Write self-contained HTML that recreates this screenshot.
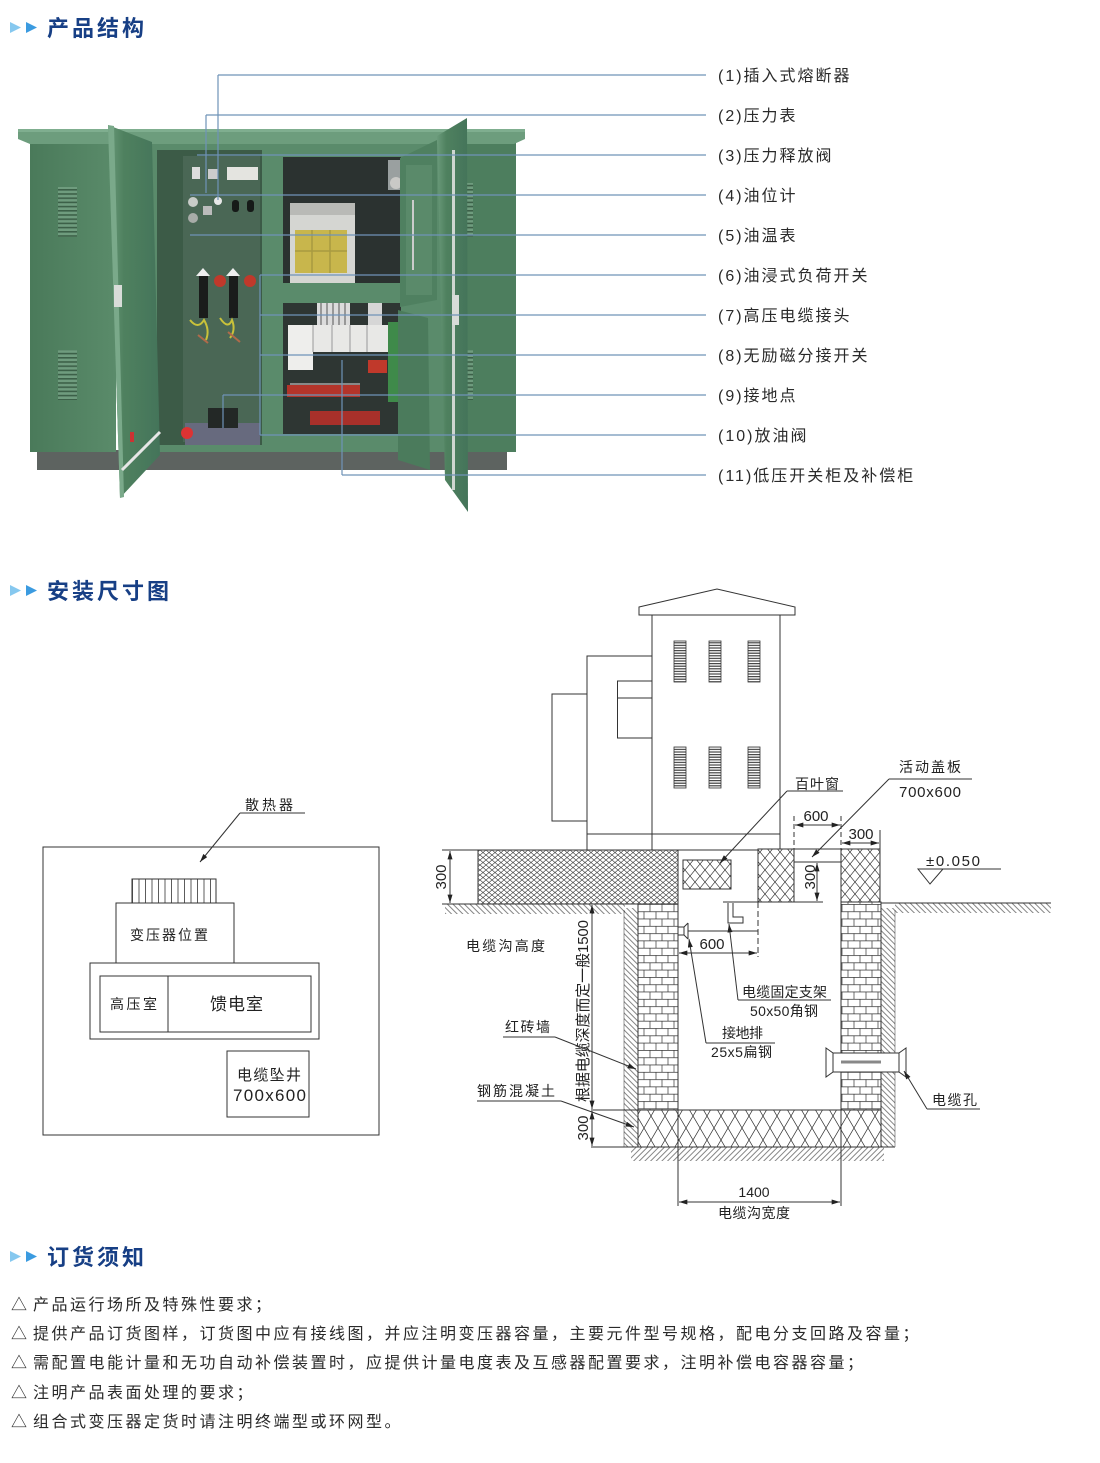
<!DOCTYPE html>
<html><head><meta charset="utf-8">
<style>
html,body{margin:0;padding:0;background:#fff;}
svg{display:block;}
.t{font-family:"Liberation Sans","Noto Sans CJK SC",sans-serif;fill:#222;}
.h{font-family:"Liberation Sans","Noto Sans CJK SC",sans-serif;fill:#173f85;font-weight:700;font-size:22px;letter-spacing:3px;}
.lb{font-family:"Liberation Sans","Noto Sans CJK SC",sans-serif;fill:#2a2a2a;font-size:16px;letter-spacing:2px;}
.bt{font-family:"Liberation Sans","Noto Sans CJK SC",sans-serif;fill:#2a2a2a;font-size:16px;letter-spacing:2.5px;}
.ln{stroke:#333;stroke-width:1;fill:none;}
.lead{stroke:#6f93b8;stroke-width:1.2;fill:none;}
</style></head>
<body>
<svg width="1100" height="1463" viewBox="0 0 1100 1463" xmlns="http://www.w3.org/2000/svg">
<defs>
  <marker id="a" viewBox="0 0 10 6" refX="10" refY="3" markerWidth="9" markerHeight="5" orient="auto-start-reverse" markerUnits="userSpaceOnUse"><path d="M0,0 L10,3 L0,6 z" fill="#222"/></marker>
  <pattern id="fx" patternUnits="userSpaceOnUse" width="6" height="5"><rect width="6" height="5" fill="#fff"/><path d="M0,0 L6,5 M0,5 L6,0" stroke="#333" stroke-width="0.6"/></pattern>
  <pattern id="mx" patternUnits="userSpaceOnUse" width="10" height="12"><rect width="10" height="12" fill="#fff"/><path d="M0,0 L10,12 M0,12 L10,0" stroke="#333" stroke-width="0.7"/></pattern>
  <pattern id="sx" patternUnits="userSpaceOnUse" width="14" height="24"><rect width="14" height="24" fill="#fff"/><path d="M0,0 L14,24 M0,24 L14,0" stroke="#333" stroke-width="0.7"/></pattern>
  <pattern id="br" patternUnits="userSpaceOnUse" x="0" y="904" width="24" height="14.6"><rect width="24" height="14.6" fill="#fff"/><path d="M0,0.4H24 M0,7.7H24 M2,0V7.3 M14,0V7.3 M8,7.3V14.6 M20,7.3V14.6" stroke="#333" stroke-width="0.7"/></pattern>
  <pattern id="hd" patternUnits="userSpaceOnUse" width="4" height="4" patternTransform="rotate(45)"><line x1="1" y1="0" x2="1" y2="4" stroke="#333" stroke-width="0.6"/></pattern>
  <pattern id="hd2" patternUnits="userSpaceOnUse" width="4" height="4" patternTransform="rotate(-45)"><line x1="1" y1="0" x2="1" y2="4" stroke="#333" stroke-width="0.6"/></pattern>
  <pattern id="lv" patternUnits="userSpaceOnUse" width="4" height="2.6"><rect width="4" height="2.6" fill="#fff"/><rect width="4" height="1.2" fill="#444"/></pattern>
  <pattern id="fin" patternUnits="userSpaceOnUse" x="132" width="6.5" height="4"><rect width="6.5" height="4" fill="#fff"/><line x1="0.5" y1="0" x2="0.5" y2="4" stroke="#333" stroke-width="0.8"/></pattern>
  <pattern id="plv" patternUnits="userSpaceOnUse" width="4" height="4.2"><rect width="4" height="4.2" fill="#6f9c7e"/><rect width="4" height="1.6" fill="#3c6048"/></pattern>
  <linearGradient id="gside" x1="0" x2="1" y1="0" y2="0"><stop offset="0" stop-color="#4a7a5a"/><stop offset="1" stop-color="#5a8b6a"/></linearGradient>
  <linearGradient id="gdoor" x1="0" x2="1" y1="0" y2="0"><stop offset="0" stop-color="#6a9a7a"/><stop offset="0.3" stop-color="#4f815f"/><stop offset="1" stop-color="#44745a"/></linearGradient>
</defs>

<!-- ========== Section 1 title ========== -->
<polygon points="10,22 21,27.5 10,33" fill="#86c8ef"/>
<polygon points="26,22 37,27.5 26,33" fill="#3b9be0"/>
<text class="h" x="47" y="36">产品结构</text>

<!-- ========== Photo ========== -->
<g>
  <rect x="37" y="450" width="470" height="20" fill="#5d6360"/>
  <rect x="30" y="140" width="86" height="312" fill="url(#gside)"/>
  <rect x="460" y="140" width="56" height="312" fill="#4d7e5e"/>
  <rect x="148" y="140" width="315" height="312" fill="#5a8b6b"/>
  <polygon points="18,129 525,129 525,139 514,144 30,144 18,139" fill="#6d9d7d"/>
  <rect x="18" y="129" width="507" height="3" fill="#7fae8f"/>
  <!-- louvers -->
  <rect x="58" y="187" width="19" height="50" fill="url(#plv)"/>
  <rect x="58" y="350" width="19" height="50" fill="url(#plv)"/>
  <rect x="466" y="183" width="7" height="54" fill="url(#plv)"/>
  <rect x="466" y="350" width="7" height="50" fill="url(#plv)"/>
  <!-- left compartment -->
  <rect x="157" y="150" width="105" height="295" fill="#3c5b47"/>
  <rect x="183" y="156" width="77" height="286" fill="#4a6755"/>
  <rect x="185" y="423" width="75" height="22" fill="#676a7e"/>
  <rect x="227" y="167" width="31" height="13" fill="#e4e4e0"/>
  <rect x="192" y="167" width="8" height="12" fill="#ddd"/>
  <rect x="208" y="169" width="10" height="10" fill="#ccc"/>
  <circle cx="193" cy="202" r="5" fill="#c8ccc8"/>
  <circle cx="218" cy="201" r="4" fill="#e8e8e8"/>
  <rect x="203" y="206" width="9" height="9" fill="#bbb"/>
  <circle cx="193" cy="218" r="5" fill="#a8aca8"/>
  <rect x="232" y="200" width="7" height="12" rx="3" fill="#161a18"/>
  <rect x="247" y="200" width="7" height="12" rx="3" fill="#161a18"/>
  <rect x="199" y="276" width="9" height="42" fill="#1a1c1b"/>
  <rect x="229" y="276" width="9" height="42" fill="#1a1c1b"/>
  <circle cx="220" cy="281" r="6" fill="#c0392b"/>
  <circle cx="250" cy="281" r="6" fill="#c0392b"/>
  <polygon points="196,276 203,268 210,276" fill="#eee"/>
  <polygon points="226,276 233,268 240,276" fill="#eee"/>
  <path d="M190,320 q8,10 14,0 q6,10 2,20 M220,318 q8,12 12,2 q4,10 -2,18" stroke="#c9c23a" stroke-width="2" fill="none"/>
  <path d="M198,335 l10,8 M228,332 l12,10" stroke="#b06a4a" stroke-width="2"/>
  <rect x="208" y="408" width="30" height="20" fill="#232826"/>
  <circle cx="187" cy="433" r="6" fill="#d33"/>
  <!-- right upper compartment -->
  <rect x="283" y="157" width="118" height="126" fill="#2b3230"/>
  <rect x="290" y="203" width="65" height="80" fill="#d5d6d2"/>
  <rect x="295" y="230" width="52" height="43" fill="#c8b64c"/>
  <path d="M312,230 V273 M330,230 V273 M295,251 H347" stroke="#a89a40" stroke-width="1.5"/>
  <rect x="290" y="203" width="65" height="12" fill="#b9bab6"/>
  <rect x="388" y="160" width="14" height="30" fill="#9aa0a0"/>
  <circle cx="396" cy="183" r="6" fill="#c9c9c6"/>
  <!-- right lower compartment -->
  <rect x="283" y="303" width="118" height="131" fill="#2e3633"/>
  <rect x="317" y="303" width="33" height="22" fill="#dcdcdc"/>
  <path d="M321,303V325 M327,303V325 M333,303V325 M339,303V325 M345,303V325" stroke="#555" stroke-width="1"/>
  <rect x="368" y="303" width="14" height="22" fill="#d6d6d6"/>
  <rect x="288" y="325" width="100" height="27" fill="#e8e8e6"/>
  <rect x="288" y="325" width="25" height="45" fill="#eeeeec"/>
  <path d="M313,325V352 M332,325V352 M350,325V352 M367,325V352" stroke="#999" stroke-width="1"/>
  <rect x="368" y="360" width="19" height="13" fill="#c0392b"/>
  <rect x="287" y="385" width="73" height="12" fill="#b3342a"/>
  <rect x="310" y="411" width="70" height="14" fill="#a8302a"/>
  <rect x="290" y="383" width="70" height="2" fill="#888"/>
  <!-- upper door panel -->
  <polygon points="400,158 437,140 437,300 400,307" fill="#4f8060"/>
  <rect x="406" y="165" width="26" height="130" fill="#5a8a6a"/>
  <rect x="412" y="200" width="2" height="70" fill="#ccc"/>
  <!-- lower door -->
  <polygon points="398,310 428,318 430,470 398,460" fill="#4b7b5c"/>
  <rect x="388" y="322" width="10" height="80" fill="#3f8a4a"/>
  <!-- right big door -->
  <polygon points="437,136 467,118 468,512 445,480" fill="url(#gdoor)"/>
  <rect x="452" y="150" width="3" height="340" fill="#cfd6d0"/>
  <rect x="452" y="295" width="7" height="30" fill="#d8dcd8"/>
  <!-- left door -->
  <polygon points="108,125 152,142 160,455 120,498" fill="url(#gdoor)"/>
  <polygon points="108,125 114,126 124,497 120,498" fill="#7aa98a"/>
  <rect x="114" y="285" width="8" height="22" fill="#d8dcd8"/>
  <path d="M122,470 L160,432" stroke="#e6e6e6" stroke-width="3"/>
  <rect x="130" y="432" width="4" height="10" fill="#c33"/>
</g>

<!-- leader lines -->
<g class="lead">
  <path d="M218,75 H706 M218,75 V200"/>
  <path d="M206,115 H706 M206,115 V193"/>
  <path d="M197,155 H706"/>
  <path d="M190,195 H706"/>
  <path d="M190,235 H706"/>
  <path d="M260,275 H706 M260,275 V435"/>
  <path d="M260,315 H706"/>
  <path d="M260,355 H706"/>
  <path d="M223,395 H706 M223,395 V428"/>
  <path d="M260,435 H706"/>
  <path d="M342,475 H706 M342,360 V475"/>
</g>

<!-- labels -->
<text class="lb" x="718" y="81">(1)插入式熔断器</text>
<text class="lb" x="718" y="121">(2)压力表</text>
<text class="lb" x="718" y="161">(3)压力释放阀</text>
<text class="lb" x="718" y="201">(4)油位计</text>
<text class="lb" x="718" y="241">(5)油温表</text>
<text class="lb" x="718" y="281">(6)油浸式负荷开关</text>
<text class="lb" x="718" y="321">(7)高压电缆接头</text>
<text class="lb" x="718" y="361">(8)无励磁分接开关</text>
<text class="lb" x="718" y="401">(9)接地点</text>
<text class="lb" x="718" y="441">(10)放油阀</text>
<text class="lb" x="718" y="481">(11)低压开关柜及补偿柜</text>

<!-- ========== Section 2 title ========== -->
<polygon points="10,585 21,590.5 10,596" fill="#86c8ef"/>
<polygon points="26,585 37,590.5 26,596" fill="#3b9be0"/>
<text class="h" x="47" y="599">安装尺寸图</text>

<!-- ===== Left plan diagram ===== -->
<g class="ln" stroke="#555">
  <rect x="43" y="847" width="336" height="288"/>
  <rect x="132" y="879" width="84" height="24" fill="url(#fin)"/>
  <rect x="116" y="903" width="118" height="60" fill="#fff"/>
  <rect x="90" y="963" width="229" height="76"/>
  <rect x="100" y="976" width="211" height="56"/>
  <line x1="168" y1="976" x2="168" y2="1032"/>
  <rect x="227" y="1051" width="82" height="66"/>
  <line x1="240" y1="813" x2="305" y2="813"/>
  <line x1="240" y1="813" x2="200" y2="862" marker-end="url(#a)"/>
</g>
<text class="t" x="245" y="810" font-size="14" textLength="48">散热器</text>
<text class="t" x="130" y="940" font-size="14" textLength="78">变压器位置</text>
<text class="t" x="110" y="1009" font-size="14" textLength="47">高压室</text>
<text class="t" x="210" y="1010" font-size="17" textLength="53">馈电室</text>
<text class="t" x="237" y="1080" font-size="15" textLength="64">电缆坠井</text>
<text class="t" x="233" y="1101" font-size="17" textLength="73">700x600</text>

<!-- ===== Right section diagram ===== -->
<g class="ln">
  <polygon points="639,607 717,589 795,607 795,615 639,615" fill="#fff"/>
  <rect x="652" y="615" width="128" height="235" fill="#fff"/>
  <rect x="587" y="656" width="65" height="194" fill="#fff"/>
  <rect x="552" y="694" width="35" height="127" fill="#fff"/>
  <rect x="617.5" y="681" width="34.5" height="57" fill="#fff"/>
  <line x1="617.5" y1="698" x2="652" y2="698"/>
  <line x1="587" y1="834" x2="780" y2="834"/>
</g>
<g stroke="#333" stroke-width="0.8">
  <rect x="674" y="641" width="12" height="41" fill="url(#lv)"/>
  <rect x="709" y="641" width="12" height="41" fill="url(#lv)"/>
  <rect x="748" y="641" width="12" height="41" fill="url(#lv)"/>
  <rect x="674" y="747" width="12" height="41" fill="url(#lv)"/>
  <rect x="709" y="747" width="12" height="41" fill="url(#lv)"/>
  <rect x="748" y="747" width="12" height="41" fill="url(#lv)"/>
</g>

<!-- ground hatches -->
<rect x="445" y="904" width="180" height="10" fill="url(#hd2)"/>
<rect x="624" y="908" width="14" height="239" fill="url(#hd2)"/>
<rect x="881" y="908" width="14" height="239" fill="url(#hd2)"/>
<rect x="895" y="903" width="156" height="10" fill="url(#hd2)"/>
<rect x="631" y="1147" width="253" height="14" fill="url(#hd)"/>

<g class="ln">
  <rect x="478" y="850" width="200" height="54" fill="url(#fx)"/>
  <line x1="442" y1="850" x2="758" y2="850"/>
  <line x1="442" y1="904" x2="638" y2="904"/>
  <line x1="450" y1="851" x2="450" y2="903" marker-start="url(#a)" marker-end="url(#a)"/>
  <rect x="683" y="860" width="48" height="29" fill="url(#mx)"/>
  <rect x="758" y="849" width="36" height="53" fill="url(#mx)"/>
  <rect x="841" y="849" width="39" height="53" fill="url(#mx)"/>
  <line x1="794" y1="849" x2="841" y2="849"/>
  <line x1="794" y1="862" x2="841" y2="862"/>
  <line x1="794" y1="816" x2="794" y2="849" stroke-dasharray="5,3"/>
  <line x1="841" y1="816" x2="841" y2="849" stroke-dasharray="5,3"/>
  <line x1="795" y1="825" x2="840" y2="825" marker-start="url(#a)" marker-end="url(#a)"/>
  <line x1="880" y1="830" x2="880" y2="849"/>
  <line x1="842" y1="843" x2="879" y2="843" marker-start="url(#a)" marker-end="url(#a)"/>
  <line x1="817" y1="863" x2="817" y2="901" marker-start="url(#a)" marker-end="url(#a)"/>
  <line x1="723" y1="902" x2="823" y2="902"/>
  <line x1="758" y1="902" x2="758" y2="957" stroke-dasharray="6,3"/>
  <rect x="638" y="904" width="40" height="206" fill="url(#br)"/>
  <rect x="841" y="902" width="40" height="208" fill="url(#br)"/>
  <line x1="881" y1="903" x2="1051" y2="903"/>
  <line x1="624" y1="910" x2="624" y2="1147" stroke-width="0.5"/>
  <line x1="895" y1="910" x2="895" y2="1147" stroke-width="0.5"/>
  <rect x="638" y="1110" width="243" height="37" fill="url(#sx)"/>
  <line x1="624" y1="1147" x2="895" y2="1147"/>
  <line x1="678" y1="1110" x2="678" y2="1206"/>
  <line x1="841" y1="1110" x2="841" y2="1206"/>
  <line x1="679" y1="1202" x2="840" y2="1202" marker-start="url(#a)" marker-end="url(#a)"/>
  <line x1="591" y1="1110" x2="638" y2="1110"/>
  <line x1="591" y1="1147" x2="624" y2="1147"/>
  <line x1="592" y1="905" x2="592" y2="1109" marker-start="url(#a)" marker-end="url(#a)"/>
  <line x1="592" y1="1111" x2="592" y2="1146" marker-start="url(#a)" marker-end="url(#a)"/>
  <rect x="678" y="927" width="6" height="8" fill="#fff"/>
  <line x1="688" y1="923" x2="688" y2="939"/>
  <line x1="684" y1="927" x2="688" y2="923"/>
  <line x1="684" y1="935" x2="688" y2="939"/>
  <line x1="688" y1="931" x2="758" y2="931"/>
  <line x1="679" y1="953" x2="757" y2="953" marker-start="url(#a)" marker-end="url(#a)"/>
  <polyline points="728,903 728,923 743,923 743,917 733,917 733,903"/>
  <rect x="833" y="1053" width="66" height="19" fill="#fff"/>
  <polygon points="826,1048 833,1053 833,1072 826,1077" fill="#fff"/>
  <polygon points="906,1048 899,1053 899,1072 906,1077" fill="#fff"/>
  <line x1="841" y1="1062" x2="881" y2="1062" stroke="#888" stroke-width="3"/>
  <line x1="918" y1="869" x2="1001" y2="869"/>
  <polygon points="918,869 943,869 930,884" fill="#fff"/>
  <line x1="787" y1="791" x2="843" y2="791"/>
  <line x1="787" y1="791" x2="720" y2="863" marker-end="url(#a)"/>
  <line x1="889" y1="779" x2="972" y2="779"/>
  <line x1="889" y1="779" x2="812" y2="857" marker-end="url(#a)"/>
  <line x1="503" y1="1037" x2="555" y2="1037"/>
  <line x1="555" y1="1037" x2="636" y2="1069" marker-end="url(#a)"/>
  <line x1="477" y1="1101" x2="561" y2="1101"/>
  <line x1="561" y1="1101" x2="634" y2="1127" marker-end="url(#a)"/>
  <line x1="738" y1="1000" x2="831" y2="1000"/>
  <line x1="738" y1="1000" x2="729" y2="924" marker-end="url(#a)"/>
  <line x1="706" y1="1043" x2="775" y2="1043"/>
  <line x1="706" y1="1043" x2="689" y2="939" marker-end="url(#a)"/>
  <line x1="927" y1="1109" x2="980" y2="1109"/>
  <line x1="927" y1="1109" x2="904" y2="1071" marker-end="url(#a)"/>
</g>

<g class="t" font-size="14">
  <text x="795" y="789" textLength="44">百叶窗</text>
  <text x="899" y="772" textLength="62">活动盖板</text>
  <text x="899" y="797" font-size="15" textLength="62">700x600</text>
  <text x="816" y="821" font-size="15" text-anchor="middle">600</text>
  <text x="861" y="839" font-size="15" text-anchor="middle">300</text>
  <text x="926" y="866" font-size="15" textLength="54">±0.050</text>
  <text transform="translate(446,877) rotate(-90)" font-size="15" text-anchor="middle">300</text>
  <text transform="translate(815,877) rotate(-90)" font-size="15" text-anchor="middle">300</text>
  <text transform="translate(588,1011) rotate(-90)" font-size="15" text-anchor="middle" textLength="182">根据电缆深度而定一般1500</text>
  <text transform="translate(588,1128) rotate(-90)" font-size="15" text-anchor="middle">300</text>
  <text x="466" y="951" textLength="79">电缆沟高度</text>
  <text x="712" y="949" font-size="15" text-anchor="middle">600</text>
  <text x="742" y="997" textLength="85">电缆固定支架</text>
  <text x="750" y="1016" textLength="68">50x50角钢</text>
  <text x="722" y="1038" textLength="41">接地排</text>
  <text x="711" y="1057" textLength="61">25x5扁钢</text>
  <text x="505" y="1032" textLength="45">红砖墙</text>
  <text x="477" y="1096" textLength="78">钢筋混凝土</text>
  <text x="932" y="1105" textLength="45">电缆孔</text>
  <text x="754" y="1197" text-anchor="middle">1400</text>
  <text x="754" y="1218" text-anchor="middle" textLength="72">电缆沟宽度</text>
</g>

<!-- ========== Section 3 ========== -->
<polygon points="10,1251 21,1256.5 10,1262" fill="#86c8ef"/>
<polygon points="26,1251 37,1256.5 26,1262" fill="#3b9be0"/>
<text class="h" x="47" y="1265">订货须知</text>

<g class="bt">
  <text x="11" y="1310" style="letter-spacing:0">△</text>
  <text x="33" y="1310">产品运行场所及特殊性要求；</text>
  <text x="11" y="1339" style="letter-spacing:0">△</text>
  <text x="33" y="1339">提供产品订货图样，订货图中应有接线图，并应注明变压器容量，主要元件型号规格，配电分支回路及容量；</text>
  <text x="11" y="1368" style="letter-spacing:0">△</text>
  <text x="33" y="1368">需配置电能计量和无功自动补偿装置时，应提供计量电度表及互感器配置要求，注明补偿电容器容量；</text>
  <text x="11" y="1398" style="letter-spacing:0">△</text>
  <text x="33" y="1398">注明产品表面处理的要求；</text>
  <text x="11" y="1427" style="letter-spacing:0">△</text>
  <text x="33" y="1427">组合式变压器定货时请注明终端型或环网型。</text>
</g>
</svg>
</body></html>
